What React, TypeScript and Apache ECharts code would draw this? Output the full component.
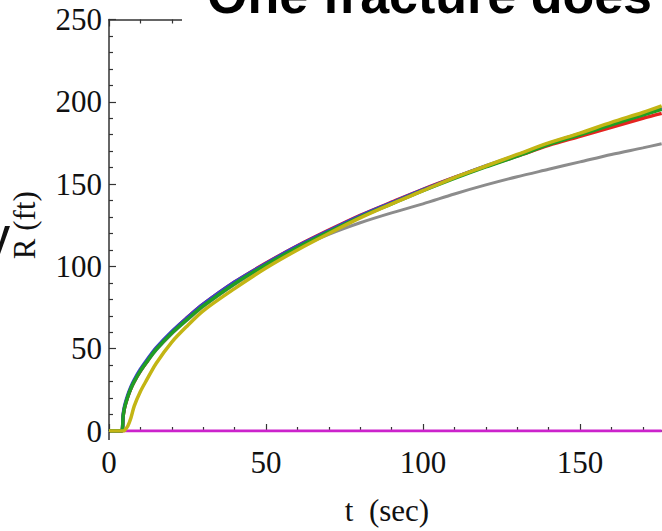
import React, { useEffect, useRef } from "react";
import * as echarts from "echarts";

// time samples (sec)
const times = [0, 4, 4.5, 5, 6, 7, 8, 10, 12, 15, 20, 25, 30, 40, 50, 60, 70, 80, 90, 100, 110, 120, 130, 140, 150, 160, 170, 176];
// radius values (ft)
const greenR = [0, 0, 9, 14.5, 21, 26, 30, 36.5, 42, 49.5, 59.5, 68, 76, 89.5, 101, 111.5, 121, 130, 138, 146, 153.5, 160.5, 167, 174, 180, 186, 192, 195.5];
const blueR = [0, 0, 10, 15.5, 22, 27, 31, 37.5, 43, 50.5, 60.5, 69, 77, 90.5, 101.8, 112.3, 121.7, 130.7, 138.7, 146.6, 154, 161, 167.6, 174.5, 180.6, 186.6, 192.6, 196.3];
const redR = [0, 0, 9, 14.5, 21, 26, 30, 36.5, 42, 50, 60, 69, 77, 90.5, 102, 112.5, 122, 131, 139, 146.8, 154, 160.8, 167, 173.5, 179, 184.5, 190, 193];
const yellowR = [0, 0, 0, 0.5, 3, 8, 15, 24, 31, 41, 54, 64, 73, 86.5, 99, 110, 120, 129.5, 138, 146, 154, 161, 168, 175, 181, 187.5, 193.5, 197.5];
const grayR = [0, 0, 8.5, 14, 20.5, 25.5, 29.5, 36, 41.5, 49, 59, 67.5, 75.5, 89, 100.5, 111, 119.5, 126.5, 132.5, 138, 144, 149.5, 154.5, 159, 163.5, 168, 172, 174.5];
const magentaT = [0, 176];
const magentaR = [0, 0];
const blackT = [0, 4.2];
const blackR = [0, 0];

const yTicks = [0, 50, 100, 150, 200, 250];
const xTicks = [0, 50, 100, 150];

const pair = (t: number[], r: number[]) => t.map((v, i) => [v, r[i]]);

const W = 662;
const H = 531;
const CHART_W = 740; // wider than the window: the plot runs off the right edge as in the reference
const GRID_LEFT = 109;
const GRID_TOP = 19.5;
const GRID_BOTTOM = 99; // 0 ft at y=432
const X_OFFSET = 8;
const X_MAX = 200;
const PX_PER_SEC = 3.143;
const GRID_RIGHT = CHART_W - GRID_LEFT - X_MAX * PX_PER_SEC;

const serif = "Liberation Serif";
const axisColor = "#333";

export default function App() {
  const ref = useRef<HTMLDivElement>(null);
  useEffect(() => {
    document.body.style.margin = "0";
    document.body.style.overflow = "hidden";
    document.documentElement.style.overflow = "hidden";
    if (!ref.current) return;
    const chart = echarts.init(ref.current, undefined, { renderer: "svg" });
    const mk = (name: string, data: number[][], color: string, width = 3.5) => ({
      name,
      type: "line",
      data,
      showSymbol: false,
      symbol: "none",
      smooth: 0.3,
      lineStyle: { color, width },
      itemStyle: { color },
    });
    const bottomPx = H - GRID_BOTTOM;
    chart.setOption({
      animation: false,
      backgroundColor: "#fff",
      grid: { left: GRID_LEFT, right: GRID_RIGHT, top: GRID_TOP, bottom: GRID_BOTTOM, containLabel: false },
      xAxis: [
        {
          type: "value",
          min: 0,
          max: X_MAX,
          interval: 50,
          position: "bottom",
          offset: X_OFFSET,
          name: "t  (sec)",
          nameLocation: "middle",
          nameGap: 56,
          nameTextStyle: { fontFamily: serif, fontSize: 31, color: "#111", padding: [0, 72, 0, 0] },
          axisLine: { show: true, lineStyle: { color: axisColor, width: 1.5 } },
          axisTick: { show: true, inside: true, length: 7, lineStyle: { color: axisColor, width: 1.2 } },
          minorTick: { show: true, splitNumber: 5, length: 4, lineStyle: { color: axisColor, width: 1.2 } },
          axisLabel: {
            fontFamily: serif,
            fontSize: 31,
            color: "#111",
            margin: 8,
            formatter: (v: number) => (xTicks.includes(v) ? String(v) : ""),
          },
          splitLine: { show: false },
        },
        {
          type: "value",
          min: 0,
          max: X_MAX,
          interval: 50,
          position: "top",
          axisLine: { show: true, lineStyle: { color: axisColor, width: 1.5 } },
          axisTick: { show: true, inside: true, length: 7, lineStyle: { color: axisColor, width: 1.2 } },
          minorTick: { show: true, splitNumber: 5, length: 4, lineStyle: { color: axisColor, width: 1.2 } },
          axisLabel: { show: false },
          splitLine: { show: false },
        },
      ],
      yAxis: {
        type: "value",
        min: 0,
        max: 250,
        interval: 50,
        name: "R (ft)",
        nameLocation: "middle",
        nameGap: 69,
        nameTextStyle: { fontFamily: serif, fontSize: 31, color: "#111" },
        axisLine: { show: true, lineStyle: { color: axisColor, width: 1.5 } },
        axisTick: { show: true, inside: true, length: 7, lineStyle: { color: axisColor, width: 1.2 } },
        minorTick: { show: true, splitNumber: 5, length: 4, lineStyle: { color: axisColor, width: 1.2 } },
        axisLabel: {
          fontFamily: serif,
          fontSize: 31,
          color: "#111",
          margin: 7,
          formatter: (v: number) => (yTicks.includes(v) ? String(v) : ""),
        },
        splitLine: { show: false },
      },
      series: [
        mk("magenta", pair(magentaT, magentaR), "#cc22cc", 3),
        mk("black", pair(blackT, blackR), "#333333", 3),
        mk("gray", pair(times, grayR), "#8c8c8c", 3),
        mk("red", pair(times, redR), "#e52420"),
        mk("blue", pair(times, blueR), "#3c3cd2"),
        mk("green", pair(times, greenR), "#1f9e24"),
        mk("yellow", pair(times, yellowR), "#c3b514"),
      ],
      graphic: [
        {
          type: "line",
          shape: { x1: GRID_LEFT, y1: bottomPx, x2: GRID_LEFT, y2: bottomPx + X_OFFSET },
          style: { stroke: axisColor, lineWidth: 1.5 },
          z: 10,
        },
        {
          type: "rect",
          shape: { x: 182, y: 0, width: CHART_W - 182, height: 27 },
          style: { fill: "#fff" },
          z: 20,
        },
        {
          type: "text",
          x: 207,
          y: -5,
          style: {
            text: "One fracture does",
            fontFamily: "Liberation Sans",
            fontWeight: "bold",
            fontSize: 52,
            fill: "#000",
            verticalAlign: "middle",
            align: "left",
          },
          z: 21,
        },
        {
          type: "polygon",
          shape: { points: [[0, 254], [0, 242], [5, 226], [10, 226]] },
          style: { fill: "#111" },
          z: 21,
        },
      ],
    });
    return () => chart.dispose();
  }, []);
  return <div ref={ref} style={{ width: CHART_W, height: H, position: "absolute", left: 0, top: 0 }} />;
}
